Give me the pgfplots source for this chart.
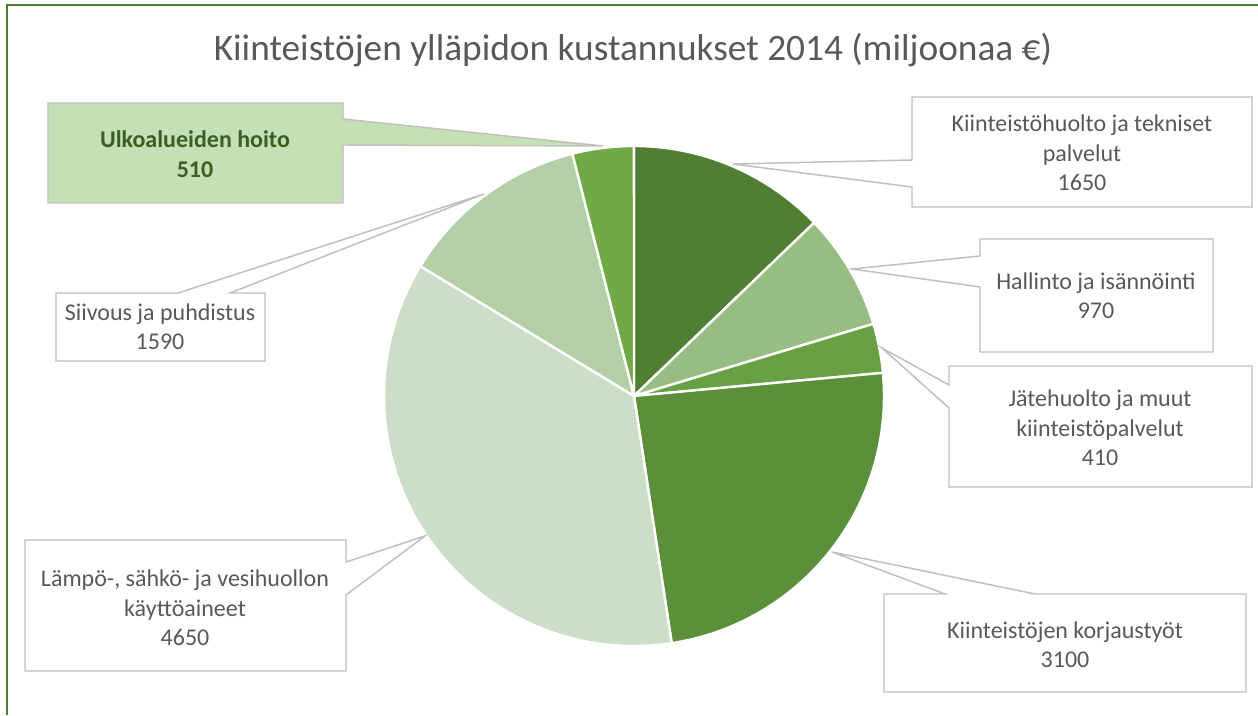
\documentclass[border=0pt]{standalone}
\usepackage{pgfplots}
\pgfplotsset{compat=1.18}
\usepackage{pgfplotstable}
\usepackage{fontspec}
\setmainfont{Carlito}
\definecolor{pcA}{HTML}{507E32}
\definecolor{pcB}{HTML}{97BD83}
\definecolor{pcC}{HTML}{67A143}
\definecolor{pcD}{HTML}{5B8F3A}
\definecolor{pcE}{HTML}{CCDEC7}
\definecolor{pcF}{HTML}{B4CEA6}
\definecolor{pcG}{HTML}{6FAA47}
\definecolor{txtgray}{HTML}{595959}
\definecolor{boxgray}{HTML}{BFBFBF}
\definecolor{framegreen}{HTML}{507E32}
\definecolor{calloutfill}{HTML}{C5E0B4}
\definecolor{callouttext}{HTML}{3B5E25}

\pgfplotstableread{
value col
1650 pcA
970 pcB
410 pcC
3100 pcD
4650 pcE
1590 pcF
510 pcG
}\piedata

\begin{document}
\begin{tikzpicture}
\path[use as bounding box] (0,0) rectangle (943.5pt,536.25pt);
\begin{axis}[x=0.75pt, y=0.75pt, xmin=0, xmax=1258, ymin=0, ymax=715,
  hide axis, clip=false, anchor=origin, at={(0,0)}]
% total
\pgfplotstablegetrowsof{\piedata}
\pgfmathtruncatemacro\nrows{\pgfplotsretval-1}
\def\total{0}
\pgfplotsforeachungrouped \i in {0,...,\nrows}{%
  \pgfplotstablegetelem{\i}{value}\of\piedata
  \pgfmathsetmacro\total{\total+\pgfplotsretval}%
  \global\let\total\total
}
\def\startang{90}
\pgfplotsforeachungrouped \i in {0,...,\nrows}{%
  \pgfplotstablegetelem{\i}{value}\of\piedata
  \let\val\pgfplotsretval
  \pgfplotstablegetelem{\i}{col}\of\piedata
  \let\colname\pgfplotsretval
  \pgfmathsetmacro\frac{\val/\total}%
  \pgfmathsetmacro\endang{\startang-\frac*360}%
  \edef\temp{\noexpand\fill[fill=\colname, draw=white, line width=1.8pt, line join=round]
    (axis cs:634,319) -- ++(\startang:187.5pt) arc[start angle=\startang, end angle=\endang, radius=187.5pt] -- cycle;}%
  \temp
  \global\let\startang\endang
}
% frame
\draw[framegreen, line width=1.2pt] (axis cs:7,0) -- (axis cs:7,710) -- (axis cs:1258,710);
% title
\node[text=txtgray, font={\fontsize{28}{32}\selectfont}] at (axis cs:633,665) {Kiinteistöjen ylläpidon kustannukset 2014 (miljoonaa €)};
% callouts
\tikzset{cbox/.style={draw=boxgray, line width=1.1pt, fill=white, line join=miter},
  ctext/.style={text=txtgray, align=center, font={\fontsize{18}{22}\selectfont}}}
\draw[cbox] (axis cs:912,618)--(axis cs:1252,618)--(axis cs:1252,508)--(axis cs:912,508)--(axis cs:912,528)--(axis cs:733,551)--(axis cs:912,555)--cycle;
\node[ctext] at (axis cs:1082,562) {Kiinteistöhuolto ja tekniset\\palvelut\\1650};
\draw[cbox] (axis cs:980,476)--(axis cs:1213,476)--(axis cs:1213,363)--(axis cs:980,363)--(axis cs:980,428)--(axis cs:852,446)--(axis cs:980,459)--cycle;
\node[ctext] at (axis cs:1096,419) {Hallinto ja isännöinti\\970};
\draw[cbox] (axis cs:949,349)--(axis cs:1252,349)--(axis cs:1252,228)--(axis cs:949,228)--(axis cs:949,307)--(axis cs:882,367)--(axis cs:949,330)--cycle;
\node[ctext] at (axis cs:1100,287) {Jätehuolto ja muut\\kiinteistöpalvelut\\410};
\draw[cbox] (axis cs:884,121)--(axis cs:945,121)--(axis cs:832,163)--(axis cs:1035,121)--(axis cs:1246,121)--(axis cs:1246,23)--(axis cs:884,23)--cycle;
\node[ctext] at (axis cs:1065,70) {Kiinteistöjen korjaustyöt\\3100};
\draw[cbox] (axis cs:25,175)--(axis cs:346,175)--(axis cs:346,153)--(axis cs:425,179)--(axis cs:346,120)--(axis cs:346,44)--(axis cs:25,44)--cycle;
\node[ctext] at (axis cs:185,107) {Lämpö-, sähkö- ja vesihuollon\\käyttöaineet\\4650};
\draw[cbox] (axis cs:56,422)--(axis cs:178,422)--(axis cs:484,521)--(axis cs:230,422)--(axis cs:265,422)--(axis cs:265,354)--(axis cs:56,354)--cycle;
\node[ctext] at (axis cs:160,388) {Siivous ja puhdistus\\1590};
\draw[cbox, fill=calloutfill] (axis cs:48,612)--(axis cs:343,612)--(axis cs:343,596)--(axis cs:603,569)--(axis cs:343,570)--(axis cs:343,512)--(axis cs:48,512)--cycle;
\node[ctext, text=callouttext, font={\fontsize{18}{22}\selectfont\bfseries}] at (axis cs:195,561) {Ulkoalueiden hoito\\510};
\end{axis}
\end{tikzpicture}
\end{document}
